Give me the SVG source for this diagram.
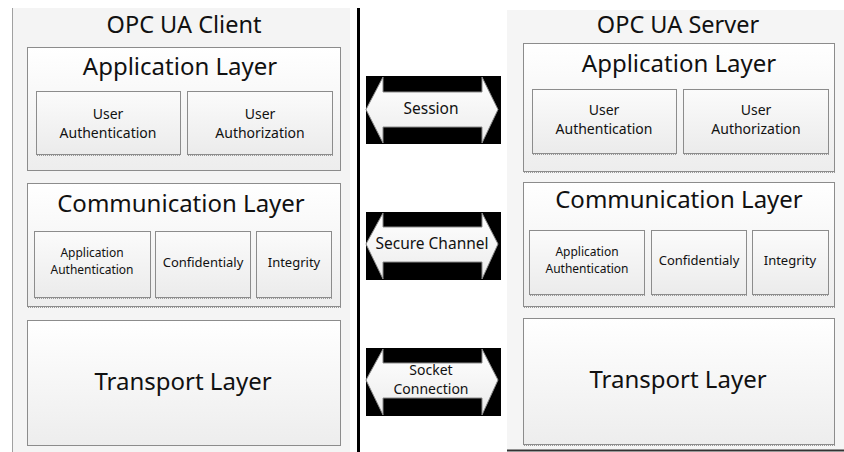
<svg xmlns="http://www.w3.org/2000/svg" width="844" height="452" viewBox="0 0 844 452">
<style>
  text { font-family: "Noto Sans", "Open Sans", sans-serif; fill: #111; text-anchor: middle; }
  .title { font-size: 23.5px; }
  .layer-title { font-size: 24px; }
  .sub { font-size: 14px; }
  .sub-s { font-size: 12px; }
  .sub-m { font-size: 13px; }
  .conn { font-size: 15.5px; }
  .conn-s { font-size: 14px; }
  .layer { fill: url(#layerGrad); stroke: #8c8c8c; stroke-width: 1; }
  .box { fill: url(#boxGrad); stroke: #8c8c8c; stroke-width: 1; }
  .shadow { fill: none; stroke: #9a9a9a; stroke-width: 1.2; stroke-dasharray: 1 1; }
  .bar { fill: #000; }
  .arrow { fill: url(#arrowGrad); stroke: #8a8a8a; stroke-width: 1; }
</style>
<defs>
  <linearGradient id="layerGrad" x1="0" y1="0" x2="0" y2="1">
    <stop offset="0" stop-color="#ffffff"/>
    <stop offset="1" stop-color="#ededed"/>
  </linearGradient>
  <linearGradient id="boxGrad" x1="0" y1="0" x2="0" y2="1">
    <stop offset="0" stop-color="#fbfbfb"/>
    <stop offset="1" stop-color="#ebebeb"/>
  </linearGradient>
  <linearGradient id="arrowGrad" x1="0" y1="0" x2="0" y2="1">
    <stop offset="0" stop-color="#ffffff"/>
    <stop offset="1" stop-color="#ececec"/>
  </linearGradient>
</defs>

<rect x="0" y="0" width="844" height="452" fill="#ffffff"/>

<!-- Client panel -->
<g id="client">
  <rect x="12" y="8" width="338" height="446" fill="#f4f4f4"/>
  <line x1="12.5" y1="8" x2="12.5" y2="452" stroke="#a0a0a0" stroke-width="1"/>
  <text class="title" x="184" y="33">OPC UA Client</text>
</g>

<g id="client-app">
  <rect class="layer" x="27.5" y="47.5" width="313" height="123"/>
  <text class="layer-title" x="180" y="75">Application Layer</text>
</g>
<g id="client-user-authn">
  <rect class="box" x="36.5" y="91.5" width="144" height="63"/>
  <line class="shadow" x1="37" y1="155.5" x2="181" y2="155.5"/>
  <text class="sub" x="108" y="119">User</text>
  <text class="sub" x="108" y="138">Authentication</text>
</g>
<g id="client-user-authz">
  <rect class="box" x="187.5" y="91.5" width="145" height="63"/>
  <line class="shadow" x1="188" y1="155.5" x2="333" y2="155.5"/>
  <text class="sub" x="260" y="119">User</text>
  <text class="sub" x="260" y="138">Authorization</text>
</g>

<g id="client-comm">
  <rect class="layer" x="27.5" y="183.5" width="313" height="123"/>
  <line class="shadow" x1="28" y1="307.5" x2="341" y2="307.5"/>
  <text class="layer-title" x="181" y="212">Communication Layer</text>
</g>
<g id="client-app-authn">
  <rect class="box" x="34.5" y="231.5" width="116" height="66"/>
  <line class="shadow" x1="35" y1="298.5" x2="151" y2="298.5"/>
  <text class="sub-s" x="92" y="257">Application</text>
  <text class="sub-s" x="92" y="274">Authentication</text>
</g>
<g id="client-conf">
  <rect class="box" x="155.5" y="231.5" width="95" height="66"/>
  <line class="shadow" x1="156" y1="298.5" x2="251" y2="298.5"/>
  <text class="sub-m" x="203" y="267">Confidentialy</text>
</g>
<g id="client-integrity">
  <rect class="box" x="256.5" y="231.5" width="75" height="66"/>
  <line class="shadow" x1="257" y1="298.5" x2="332" y2="298.5"/>
  <text class="sub-m" x="294" y="267">Integrity</text>
</g>

<g id="client-transport">
  <rect class="layer" x="27.5" y="320.5" width="313" height="125"/>
  <text class="layer-title" x="183" y="390">Transport Layer</text>
</g>

<!-- Divider -->
<line x1="358.5" y1="8" x2="358.5" y2="452" stroke="#000" stroke-width="3"/>

<!-- Server panel -->
<g id="server">
  <rect x="507" y="10" width="337" height="441" fill="#f5f5f5"/>
  <line x1="507" y1="450.5" x2="844" y2="450.5" stroke="#333" stroke-width="2"/>
  <text class="title" x="678" y="33">OPC UA Server</text>
</g>

<g id="server-app">
  <rect class="layer" x="523.5" y="43.5" width="311" height="128"/>
  <line class="shadow" x1="524" y1="172.5" x2="835" y2="172.5"/>
  <text class="layer-title" x="679" y="72">Application Layer</text>
</g>
<g id="server-user-authn">
  <rect class="box" x="532.5" y="89.5" width="144" height="64"/>
  <line class="shadow" x1="533" y1="154.5" x2="677" y2="154.5"/>
  <text class="sub" x="604" y="115">User</text>
  <text class="sub" x="604" y="134">Authentication</text>
</g>
<g id="server-user-authz">
  <rect class="box" x="683.5" y="89.5" width="145" height="64"/>
  <line class="shadow" x1="684" y1="154.5" x2="829" y2="154.5"/>
  <text class="sub" x="756" y="115">User</text>
  <text class="sub" x="756" y="134">Authorization</text>
</g>

<g id="server-comm">
  <rect class="layer" x="523.5" y="182.5" width="311" height="124"/>
  <line class="shadow" x1="524" y1="307.5" x2="835" y2="307.5"/>
  <text class="layer-title" x="679" y="208">Communication Layer</text>
</g>
<g id="server-app-authn">
  <rect class="box" x="529.5" y="230.5" width="115" height="64"/>
  <line class="shadow" x1="530" y1="295.5" x2="645" y2="295.5"/>
  <text class="sub-s" x="587" y="256">Application</text>
  <text class="sub-s" x="587" y="273">Authentication</text>
</g>
<g id="server-conf">
  <rect class="box" x="651.5" y="230.5" width="95" height="64"/>
  <line class="shadow" x1="652" y1="295.5" x2="747" y2="295.5"/>
  <text class="sub-m" x="699" y="265">Confidentialy</text>
</g>
<g id="server-integrity">
  <rect class="box" x="752.5" y="230.5" width="76" height="64"/>
  <line class="shadow" x1="753" y1="295.5" x2="829" y2="295.5"/>
  <text class="sub-m" x="790" y="265">Integrity</text>
</g>

<g id="server-transport">
  <rect class="layer" x="523.5" y="318.5" width="311" height="126"/>
  <line class="shadow" x1="524" y1="445.5" x2="835" y2="445.5"/>
  <text class="layer-title" x="678" y="388">Transport Layer</text>
</g>

<!-- Connectors -->
<g id="connectors">
  <g id="session">
    <rect class="bar" x="366" y="76" width="135" height="68"/>
    <polygon class="arrow" points="366,109.5 383,77 383,92 482,92 482,77 498,109.5 482,143 482,127 383,127 383,143"/>
    <text class="conn" x="431" y="114">Session</text>
  </g>
  <g id="secure-channel">
    <rect class="bar" x="366" y="212" width="135" height="68"/>
    <polygon class="arrow" points="366,244 383,213 383,227 482,227 482,213 498,244 482,279 482,262 383,262 383,279"/>
    <text class="conn" x="432" y="249">Secure Channel</text>
  </g>
  <g id="socket-connection">
    <rect class="bar" x="366" y="348" width="135" height="68"/>
    <polygon class="arrow" points="366,380 383,349 383,363 482,363 482,349 498,380 482,415 482,398 383,398 383,415"/>
    <text class="conn-s" x="431" y="375">Socket</text>
    <text class="conn-s" x="431" y="394">Connection</text>
  </g>
</g>
</svg>
